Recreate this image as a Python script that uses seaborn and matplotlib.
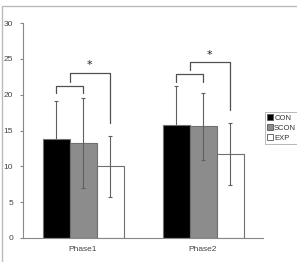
import numpy as np
import pandas as pd
import seaborn as sns
import matplotlib
matplotlib.use("Agg")
import matplotlib.pyplot as plt
from matplotlib.patches import Rectangle, Patch

phases = ["Phase1", "Phase2"]
groups = ["CON", "SCON", "EXP"]
means = {"CON": [13.8, 15.8], "SCON": [13.3, 15.6], "EXP": [10.0, 11.7]}
sds = {"CON": [5.3, 5.4], "SCON": [6.3, 4.7], "EXP": [4.3, 4.3]}
# significance brackets per phase: (small bracket level, big bracket level)
small_levels = [21.2, 22.9]
big_levels = [23.0, 24.5]
yticks = [0, 5, 10, 15, 20, 25, 30]

sns.set_style("white")
plt.rcParams['font.family'] = ['Liberation Sans Narrow', 'Liberation Sans', 'DejaVu Sans']

rows = []
for g in groups:
    for i, p in enumerate(phases):
        rows.append({"phase": p, "group": g, "mean": means[g][i], "sd": sds[g][i]})
df = pd.DataFrame(rows)

colors = {"CON": "#000000", "SCON": "#8c8c8c", "EXP": "#ffffff"}

fig = plt.figure(figsize=(2.97, 2.62), dpi=100)
ax = fig.add_axes([23/297, 1-238/262, 240/297, 215/262])

sns.barplot(data=df, x="phase", y="mean", hue="group", order=phases, hue_order=groups,
            palette=colors, errorbar=None, width=0.675, edgecolor="#707070",
            linewidth=0.8, ax=ax, legend=False, zorder=2)

centers = {}
for gi, g in enumerate(groups):
    cont = ax.containers[gi]
    xs = [b.get_x() + b.get_width()/2 for b in cont]
    centers[g] = xs
    z = 1.5 if g == "CON" else 3
    ax.errorbar(xs, means[g], yerr=sds[g], fmt="none", ecolor="#606060",
                elinewidth=0.8, capsize=1.2, capthick=0.8, zorder=z)

bc = "#505050"
for i in range(len(phases)):
    xc, xs_, xe = centers["CON"][i], centers["SCON"][i], centers["EXP"][i]
    s = small_levels[i]
    b = big_levels[i]
    legb = max(means["CON"][i] + sds["CON"][i], means["SCON"][i] + sds["SCON"][i]) + 0.6
    ax.plot([xc, xc, xs_, xs_], [legb, s, s, legb], color=bc, lw=0.9, zorder=4)
    mid = (xc + xs_) / 2
    ax.plot([mid, mid, xe, xe], [s + 0.6, b, b, means["EXP"][i] + sds["EXP"][i] + 1.8],
            color=bc, lw=0.9, zorder=4)
    ax.text((mid + xe) / 2, b + 0.4, "*", ha="center", va="bottom", fontsize=8,
            color="#202020", family="DejaVu Sans")

ax.set_xlim(-0.5, 1.5)
ax.set_ylim(0, 30)
ax.set_yticks(yticks)
ax.set_xticks([-0.5, 0.5, 1.5], minor=False)
ax.set_xticks([0, 1], minor=True)
ax.set_xticklabels(["", "", ""])
ax.set_xticklabels(phases, minor=True)
ax.tick_params(axis="x", which="major", length=2, direction="in", color="#888888")
ax.tick_params(axis="x", which="minor", length=0, pad=6, labelsize=6, labelcolor="#444444")
ax.tick_params(axis="y", length=2, direction="out", color="#888888", labelsize=6,
               labelcolor="#444444", pad=5, left=True)
ax.set_xlabel("")
ax.set_ylabel("")
for side in ["top", "right"]:
    ax.spines[side].set_visible(False)
for side in ["left", "bottom"]:
    ax.spines[side].set_color("#888888")
    ax.spines[side].set_linewidth(0.8)

handles = [Patch(facecolor=colors[g], edgecolor="#555555", linewidth=0.6, label=g) for g in groups]
leg = fig.legend(handles=handles, loc="upper left", bbox_to_anchor=(265/297, 1-112/262),
                 fontsize=5.5, frameon=True, fancybox=False, handlelength=0.7,
                 handleheight=0.7, handletextpad=0.2, borderpad=0.3, labelspacing=0.35,
                 borderaxespad=0)
leg.get_frame().set_edgecolor("#999999")
leg.get_frame().set_linewidth(0.6)
for t in leg.get_texts():
    t.set_color("#333333")

fig.patches.append(Rectangle((2/297, -0.1), 1.2, 1.1 - 6/262, transform=fig.transFigure,
                             fill=False, edgecolor="#bbbbbb", linewidth=1.0))

fig.savefig("out.png", dpi=100)
